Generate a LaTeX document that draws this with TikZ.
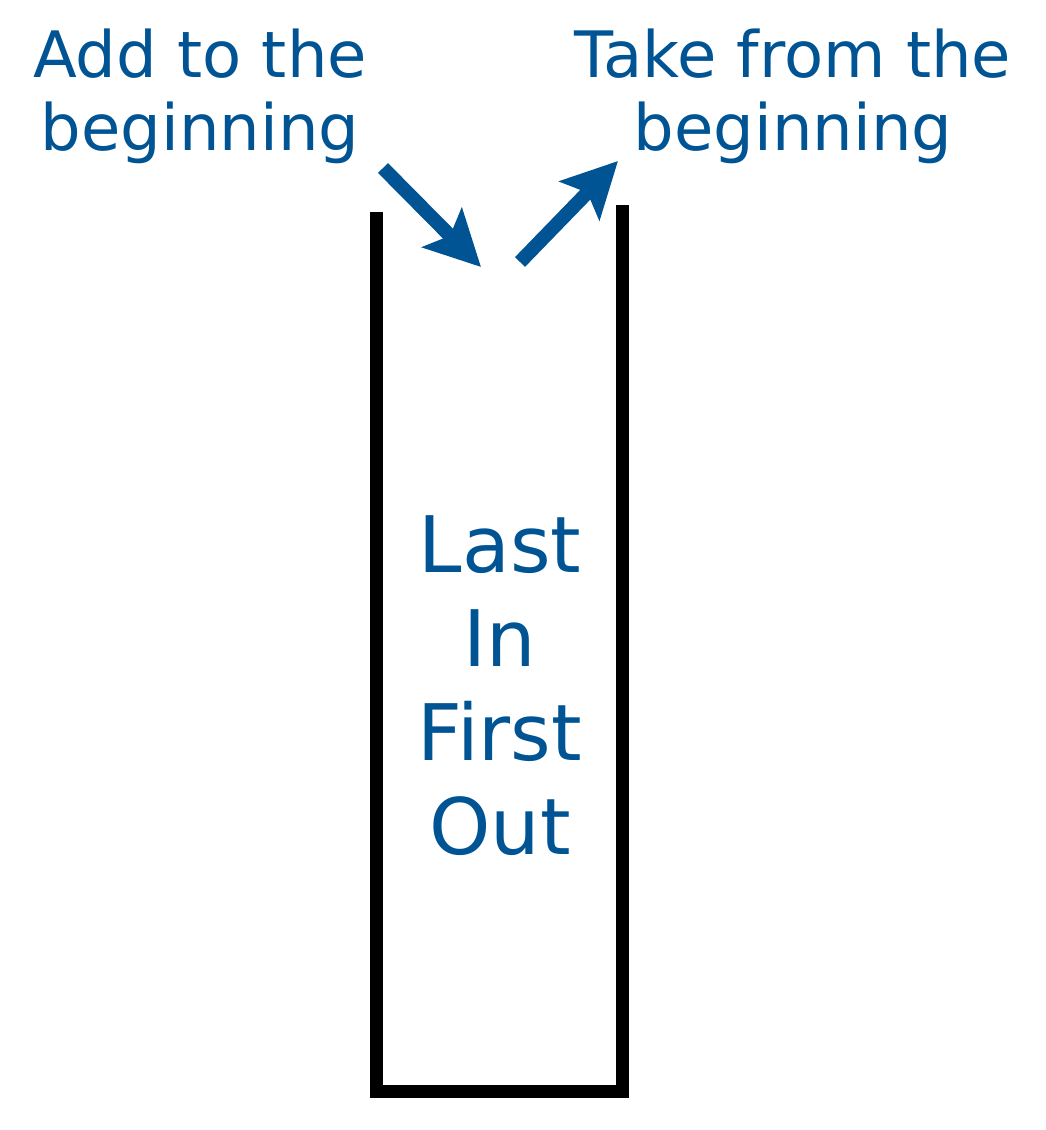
\documentclass[tikz,border=0pt]{standalone}
\usepackage{fontspec}
\setmainfont{DejaVu Sans}
\usetikzlibrary{arrows.meta}
\definecolor{lblue}{RGB}{0,84,147}
\begin{document}
\begin{tikzpicture}[x=1pt,y=-1pt,
  lbl/.style={text=lblue, align=center, font=\fontsize{64}{73}\selectfont, inner sep=0pt},
  big/.style={text=lblue, align=center, font=\fontsize{78}{94}\selectfont, inner sep=0pt},
  arr/.style={draw=lblue, line width=14pt, -{Stealth[length=55pt,width=55pt,inset=11pt]}},
  wall/.style={draw=black, line width=13pt}]
\useasboundingbox (0,0) rectangle (1046,1130);
\node[lbl, anchor=base] (add) at (200,150) {Add to the\\beginning};
\node[lbl, anchor=base] (take) at (793,150) {Take from the\\beginning};
\node[big, anchor=base] (lifo) at (500,854) {Last\\In\\First\\Out};
\coordinate (a1) at (383,168);
\coordinate (a2) at (481,267);
\coordinate (b1) at (520,262);
\coordinate (b2) at (618,161);
\coordinate (lt) at (376.5,212);
\coordinate (bl) at (376.5,1091.5);
\coordinate (br) at (622.5,1091.5);
\coordinate (rt) at (622.5,205);
\draw[wall] (lt) -- (bl) -- (br) -- (rt);
\draw[arr] (a1) -- (a2);
\draw[arr] (b1) -- (b2);
\end{tikzpicture}
\end{document}
